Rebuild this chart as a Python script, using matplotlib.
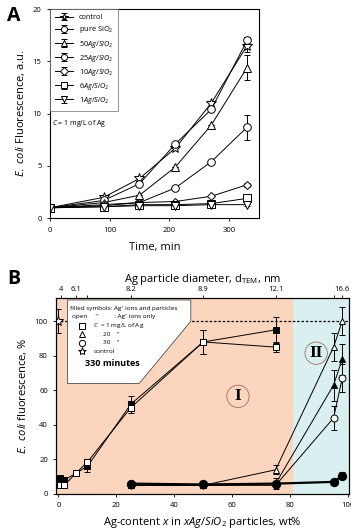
import numpy as np
import matplotlib.pyplot as plt
from matplotlib.patches import Polygon

plt.rcParams['font.family'] = ['Open Sans', 'DejaVu Sans']
plt.rcParams['mathtext.fontset'] = 'custom'
plt.rcParams['mathtext.it'] = 'Open Sans:italic'
plt.rcParams['mathtext.rm'] = 'Open Sans'

# ---- panel A data
t = [0, 90, 150, 210, 270, 330]
a_labels = ['control', 'pure SiO$_2$', r'$\it{50Ag/SiO_2}$', r'$\it{25Ag/SiO_2}$',
            r'$\it{10Ag/SiO_2}$', r'$\it{6Ag/SiO_2}$', r'$\it{1Ag/SiO_2}$']
a_markers = ['*', 'o', '^', 'o', 'D', 's', 'v']
a_vals = [
    [1, 2.0, 3.8, 6.7, 11.0, 16.5],
    [1, 1.7, 3.3, 7.1, 10.4, 17.0],
    [1, 1.5, 2.2, 4.9, 8.9, 14.4],
    [1, 1.3, 1.5, 2.9, 5.4, 8.7],
    [1, 1.2, 1.5, 1.6, 2.1, 3.2],
    [1, 1.1, 1.3, 1.3, 1.4, 1.9],
    [1, 1.1, 1.2, 1.2, 1.3, 1.3],
]
a_err_last = [0.6, 0.3, 1.2, 1.2, 0.2, 0.1, 0.1]

# ---- panel B data
sq_filled_x = [0.5, 2, 6, 10, 25, 50, 75]
sq_filled_y = [9.5, 8, 12, 16, 52, 88, 95]
sq_filled_e = [1, 1, 1, 3.5, 5, 7, 7.5]
sq_open_x = [0.5, 2, 6, 10, 25, 50, 75]
sq_open_y = [5, 5, 12, 18.5, 50, 88, 85]
sq_open_e = [1, 1, 1, 1.5, 2, 7, 3]
hi_x = [25, 50, 75, 95, 98]
tri_open_y = [5, 5, 14, 85, 100]
tri_open_e = [1, 1, 2.5, 8, 8]
tri_filled_y = [5, 5, 6, 63, 78]
tri_filled_e = [1, 1, 3, 9, 9]
circ_open_y = [5, 5, 5, 44, 67]
circ_open_e = [1, 1, 1, 7, 8]
circ_filled_y = [6, 5.5, 6, 7, 10.5]
circ_filled_e = [1, 1, 1, 1, 2]
ctrl_x, ctrl_y, ctrl_e = 0, 100, 7
top_pos = [1, 6, 10, 25, 50, 75, 95, 98]
top_lab = ['4', '6.1', '', '8.2', '8.9', '12.1', '', '16.6']

fig = plt.figure(figsize=(3.51, 5.31), dpi=100)

# ================= A
ax = fig.add_axes([0.142, 0.589, 0.596, 0.394])
for lab, m, v, e in zip(a_labels, a_markers, a_vals, a_err_last):
    ms = 7 if m == '*' else (4.5 if m == 'D' else 5.5)
    ax.errorbar(t, v, yerr=[0]*5 + [e], color='k', lw=0.7, marker=m, ms=ms,
                mfc='white', mec='k', mew=0.7, capsize=2, elinewidth=0.7, label=lab)
ax.set_xlim(0, 350)
ax.set_ylim(0, 20)
ax.set_xticks([0, 100, 200, 300])
ax.set_yticks([0, 5, 10, 15, 20])
ax.tick_params(labelsize=5.5, length=2.5, width=0.6)
for s in ax.spines.values():
    s.set_linewidth(0.8)
ax.set_xlabel('Time, min', fontsize=8, labelpad=6)
ax.set_ylabel(r'$\it{E.\ coli}$ Fluorescence, a.u.', fontsize=8, labelpad=4)
leg = ax.legend(loc='upper left', fontsize=5.3, frameon=True, fancybox=False,
                edgecolor='0.4', borderaxespad=0, handlelength=2.5, labelspacing=0.42,
                borderpad=0.7, handletextpad=0.7, markerscale=0.8)
leg.get_frame().set_linewidth(0.6)
ax.text(4, 8.9, '$\\it{C}$ = 1 mg/L of Ag', fontsize=5)
fig.text(0.02, 0.97, 'A', fontsize=14, fontweight='bold', va='center')

# ================= B
bx = fig.add_axes([0.16, 0.0697, 0.834, 0.3693])
bx.set_xlim(-0.8, 100.3)
bx.set_ylim(0, 113.5)
bx.axvspan(-0.8, 81, color='#fbd5be', lw=0)
bx.axvspan(81, 100.3, color='#daefef', lw=0)
bx.axhline(100, color='k', ls=(0, (2, 1.5)), lw=0.9)

kw = dict(color='k', lw=0.7, ms=5, mew=0.7, capsize=2, elinewidth=0.7)
bx.errorbar(sq_filled_x, sq_filled_y, yerr=sq_filled_e, marker='s', mfc='k', mec='k', **kw)
bx.errorbar(sq_open_x, sq_open_y, yerr=sq_open_e, marker='s', mfc='white', mec='k', **kw)
bx.errorbar(hi_x, tri_open_y, yerr=tri_open_e, marker='^', mfc='white', mec='k', **kw)
bx.errorbar(hi_x, tri_filled_y, yerr=tri_filled_e, marker='^', mfc='k', mec='k', **kw)
bx.errorbar(hi_x, circ_open_y, yerr=circ_open_e, marker='o', mfc='white', mec='k', **kw)
bx.errorbar(hi_x, circ_filled_y, yerr=circ_filled_e, marker='o', mfc='k', mec='k',
            color='k', lw=1.6, ms=6, mew=0.7, capsize=2, elinewidth=0.7)
bx.errorbar([ctrl_x], [ctrl_y], yerr=[ctrl_e], marker='*', mfc='white', mec='k',
            color='k', ms=7, mew=0.7, capsize=2, elinewidth=0.7)

# legend box
poly = Polygon([(3.1, 112.3), (45.7, 112.3), (45.7, 100), (27.9, 64), (3.1, 64)],
               closed=True, facecolor='white', edgecolor='0.3', lw=0.6, zorder=5)
bx.add_patch(poly)
fs = 4.6
bx.text(4, 107.5, 'filled symbols: Ag\u207a ions and particles', fontsize=fs, zorder=6, va='center')
bx.text(4.5, 102.5, 'open     "          : Ag\u207a ions only', fontsize=fs, zorder=6, va='center')
sym_y = [97.5, 92.5, 87.5, 82.5]
sym_m = ['s', '^', 'o', '*']
sym_t = ['$\\it{C}$  = 1 mg/L of Ag', '20    "', '30    "', 'control']
sym_tx = [12, 15.5, 15.5, 12]
for yy, mm, tt, tx in zip(sym_y, sym_m, sym_t, sym_tx):
    bx.plot([8], [yy], marker=mm, ms=6 if mm == '*' else 4.5, mfc='white', mec='k',
            mew=0.7, zorder=6, ls='none')
    bx.text(tx, yy, tt, fontsize=fs, zorder=6, va='center')
bx.text(9, 75.5, '330 minutes', fontsize=6.5, fontweight='bold', zorder=6, va='center')

# region markers
for cx, cy, txt in [(62, 56.5, 'I'), (89, 81.5, 'II')]:
    bx.text(cx, cy, txt, fontsize=10, fontweight='bold', family='DejaVu Serif',
            ha='center', va='center', zorder=6,
            bbox=dict(boxstyle='circle,pad=0.3', fc='none', ec='#a0705a', lw=0.6))

bx.set_xticks([0, 20, 40, 60, 80, 100])
bx.set_yticks([0, 20, 40, 60, 80, 100])
bx.tick_params(labelsize=5.5, length=2.5, width=0.6)
for s in bx.spines.values():
    s.set_linewidth(0.8)
bx.set_xlabel('Ag-content $x$ in $xAg/SiO_2$ particles, wt%', fontsize=8, labelpad=4)
bx.set_ylabel(r'$\it{E.\ coli}$ fluorescence, %', fontsize=8, labelpad=4)

top = bx.twiny()
top.set_xlim(bx.get_xlim())
top.set_xticks(top_pos)
top.set_xticklabels(top_lab)
top.tick_params(labelsize=5.5, length=2.5, width=0.6, pad=1)
top.set_xlabel('Ag particle diameter, d$_{\\mathrm{TEM}}$, nm', fontsize=8, labelpad=3)
fig.text(0.02, 0.474, 'B', fontsize=14, fontweight='bold', va='center')

fig.savefig('out.png', dpi=100)
